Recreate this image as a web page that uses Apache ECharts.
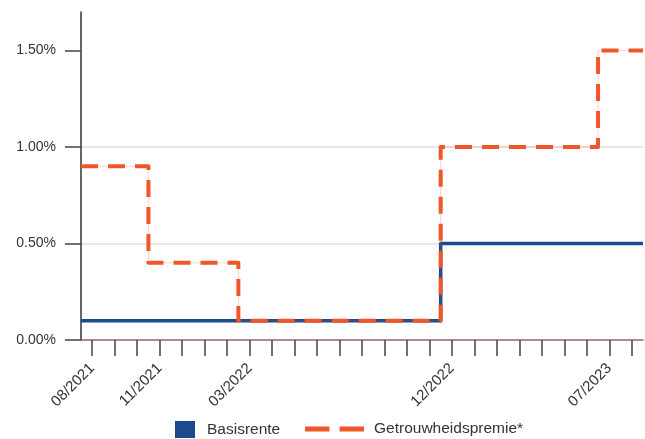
<!DOCTYPE html>
<html>
<head>
<meta charset="utf-8">
<script src="https://cdn.jsdelivr.net/npm/echarts@6/dist/echarts.min.js"></script>
<style>
html,body{margin:0;padding:0;background:#fff;}
#c{width:645px;height:439px;}
</style>
</head>
<body>
<div id="c"></div>
<script>
// Months (category ticks)
var months = ['08/2021','09/2021','10/2021','11/2021','12/2021','01/2022','02/2022','03/2022',
  '04/2022','05/2022','06/2022','07/2022','08/2022','09/2022','10/2022','11/2022','12/2022',
  '01/2023','02/2023','03/2023','04/2023','05/2023','06/2023','07/2023','08/2023'];
// Labelled months
var shownLabels = ['08/2021','11/2021','03/2022','12/2022','07/2023'];
// Y tick values (%)
var yTicks = [0, 0.5, 1.0, 1.5];
// Series values per month (%)
var basisrente = [0.1,0.1,0.1,0.1,0.1,0.1,0.1,0.1,0.1,0.1,0.1,0.1,0.1,0.1,0.1,0.1,
  0.5,0.5,0.5,0.5,0.5,0.5,0.5,0.5,0.5];
var premie = [0.9,0.9,0.9,0.4,0.4,0.4,0.4,0.1,0.1,0.1,0.1,0.1,0.1,0.1,0.1,0.1,
  1.0,1.0,1.0,1.0,1.0,1.0,1.0,1.5,1.5];

function stepData(vals){
  var d = [[-0.5, vals[0]]];
  vals.forEach(function(v,i){ d.push([i, v]); });
  d.push([vals.length - 0.5, vals[vals.length-1]]);
  return d;
}

var blue = '#1d4a8c';
var orange = '#f0562a';
var font = 'Liberation Sans, Arial, sans-serif';
var chart = echarts.init(document.getElementById('c'));
chart.setOption({
  animation: false,
  grid: {left: 81, right: 2, top: 12, bottom: 99, containLabel: false},
  xAxis: [{
    type: 'category',
    data: months,
    boundaryGap: true,
    axisLine: {show: true, onZero: false, lineStyle: {color: '#8a6a64', width: 1.5}},
    axisTick: {show: true, alignWithLabel: true, interval: 0, length: 16, lineStyle: {color: '#444', width: 1.5}},
    axisLabel: {
      rotate: 45, margin: 26, fontSize: 15, color: '#333', fontFamily: font,
      interval: function(i, v){ return shownLabels.indexOf(v) >= 0; }
    },
    splitLine: {show: false}
  },{
    type: 'value', min: -0.5, max: months.length - 0.5, show: false
  }],
  yAxis: {
    type: 'value', min: 0, max: 1.7, interval: 0.5,
    axisLine: {show: true, onZero: false, lineStyle: {color: '#333', width: 1.5}},
    axisTick: {show: true, length: 16, customValues: yTicks, lineStyle: {color: '#444', width: 1.5}},
    axisLabel: {
      customValues: yTicks, margin: 25, fontSize: 14, color: '#333', fontFamily: font,
      formatter: function(v){ return v.toFixed(2) + '%'; }
    },
    splitLine: {show: true, showMinLine: false, showMaxLine: false, lineStyle: {color: '#dedede', width: 1.5}}
  },
  legend: [{
    data: [{name: 'Basisrente', icon: 'rect'}],
    left: 175, top: 421, padding: 0, itemWidth: 20, itemHeight: 17,
    textStyle: {fontSize: 15.5, color: '#333', fontFamily: font, padding: [0,0,0,7]}
  },{
    data: [{name: 'Getrouwheidspremie*', icon: 'path://M0,0h24v5h-24z M34,0h24v5h-24z'}],
    left: 305, top: 421, padding: 0, itemWidth: 59, itemHeight: 17,
    itemStyle: {color: orange},
    textStyle: {fontSize: 15.5, color: '#333', fontFamily: font, padding: [0,0,0,5]}
  }],
  series: [{
    name: 'Basisrente', type: 'line', xAxisIndex: 1, step: 'middle',
    data: stepData(basisrente), showSymbol: false, symbol: 'none',
    lineStyle: {color: blue, width: 3.5, join: 'round'}, itemStyle: {color: blue}
  },{
    name: 'premie-base', type: 'line', xAxisIndex: 1, step: 'middle',
    data: stepData(premie), symbol: 'none', silent: true,
    lineStyle: {color: 'rgba(240,86,42,0.25)', width: 1}
  },{
    name: 'Getrouwheidspremie*', type: 'line', xAxisIndex: 1, step: 'middle',
    data: stepData(premie), symbol: 'none',
    lineStyle: {color: orange, width: 4, type: [17, 10], join: 'round', cap: 'butt'}, itemStyle: {color: orange}
  }]
});
</script>
</body>
</html>
